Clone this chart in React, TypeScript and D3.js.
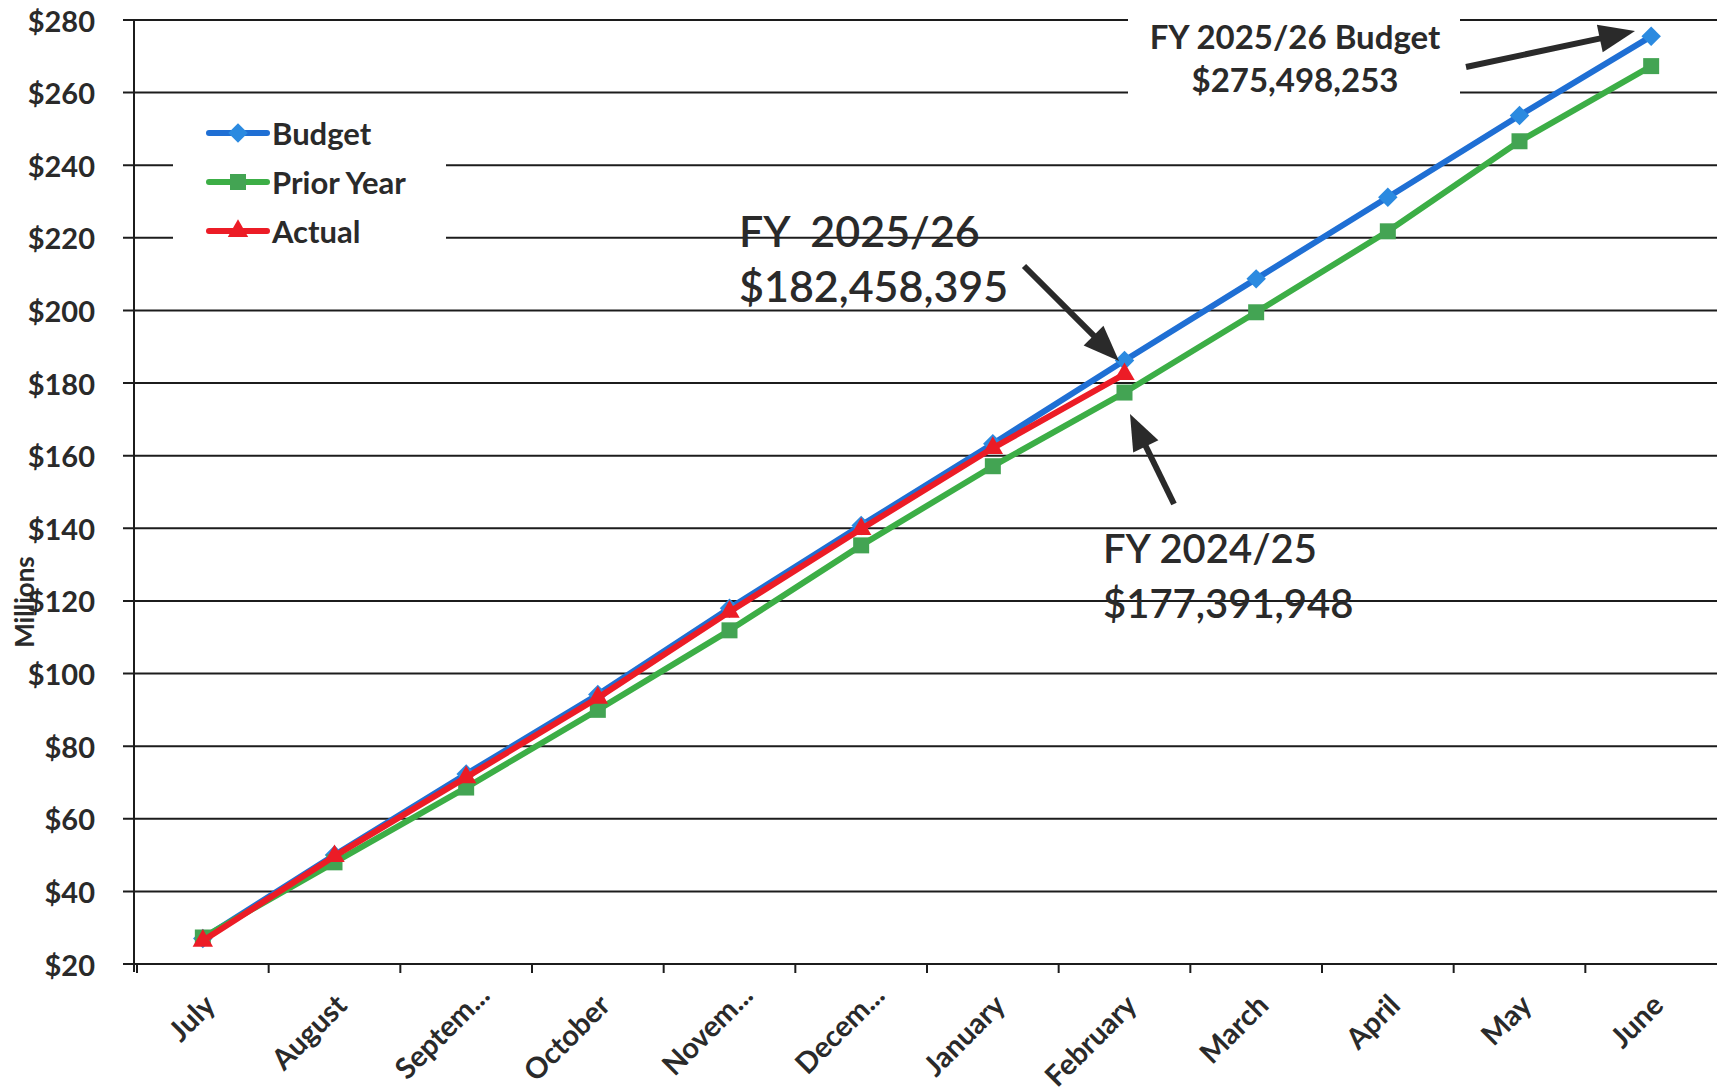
import React from 'react';
import * as d3 from 'd3';

// Monthly cumulative revenue, in millions of dollars
const months = ['July', 'August', 'Septem...', 'October', 'Novem...', 'Decem...', 'January', 'February', 'March', 'April', 'May', 'June'];
const budget = [27.0, 50.0, 72.3, 94.2, 118.0, 140.8, 163.3, 186.2, 208.7, 231.2, 253.7, 275.498253];
const priorYear = [27.3, 48.0, 68.6, 90.0, 111.9, 135.3, 157.1, 177.391948, 199.5, 221.8, 246.6, 267.3];
const actual = [26.4, 49.7, 71.4, 93.3, 117.0, 139.8, 162.1, 182.458395];
const yTicks = [20, 40, 60, 80, 100, 120, 140, 160, 180, 200, 220, 240, 260, 280];

const W = 1717;
const H = 1092;
const FONT = 'Lato, "Open Sans", sans-serif';
const INK = '#2a2a2a';

const BLUE = '#1f6fd4';
const BLUE_MK = '#2b8ae0';
const GREEN = '#3cae46';
const GREEN_MK = '#43a453';
const RED = '#ec1c26';

const fmtMoney = (v: number) => '$' + d3.format(',.0f')(v * 1e6);

function Arrow({ x1, y1, x2, y2, head = 36, half = 14, width = 6 }: any) {
  const dx = x2 - x1;
  const dy = y2 - y1;
  const len = Math.hypot(dx, dy);
  const ux = dx / len;
  const uy = dy / len;
  const bx = x2 - ux * head;
  const by = y2 - uy * head;
  const px = -uy;
  const py = ux;
  const pts = [
    [x2, y2],
    [bx + px * half, by + py * half],
    [bx - px * half, by - py * half],
  ];
  return (
    <g>
      <line x1={x1} y1={y1} x2={bx + ux * 2} y2={by + uy * 2} stroke={INK} strokeWidth={width} />
      <polygon points={pts.map((p) => p.join(',')).join(' ')} fill={INK} />
    </g>
  );
}

export default function App() {
  const x = d3.scaleBand<string>().domain(months).range([137, 1717]);
  const y = d3.scaleLinear().domain([20, 280]).range([964, 20]);
  const cx = (m: string) => (x(m) as number) + x.bandwidth() / 2;

  const line = d3
    .line<number>()
    .x((_, i) => cx(months[i]))
    .y((d) => y(d));

  const diamond = d3.symbol().type(d3.symbolSquare).size(190)() as string;
  const square = d3.symbol().type(d3.symbolSquare).size(256)() as string;
  const triangle = d3.symbol().type(d3.symbolTriangle).size(180)() as string;

  const axisLeft = 134;
  const x0 = y(20);

  const series = [
    { name: 'Budget', values: budget, color: BLUE, mk: BLUE_MK, path: diamond, rot: 45 },
    { name: 'Prior Year', values: priorYear, color: GREEN, mk: GREEN_MK, path: square, rot: 0 },
    { name: 'Actual', values: actual, color: RED, mk: RED, path: triangle, rot: 0 },
  ];

  return (
    <svg
      width={W}
      height={H}
      viewBox={`0 0 ${W} ${H}`}
      style={{ position: 'absolute', left: 0, top: 0, background: '#fff' }}
    >
      <rect width={W} height={H} fill="#fff" />

      {/* horizontal gridlines with left tick stubs */}
      {yTicks.map((t) => (
        <line key={t} x1={123} x2={W} y1={y(t)} y2={y(t)} stroke="#1c1c1c" strokeWidth={2} />
      ))}

      {/* y axis line */}
      <line x1={axisLeft} x2={axisLeft} y1={y(280)} y2={x0 + 8} stroke="#1c1c1c" strokeWidth={2} />

      {/* category ticks */}
      {months.map((m) => (
        <line key={m} x1={x(m)} x2={x(m)} y1={x0} y2={x0 + 9} stroke="#1c1c1c" strokeWidth={2} />
      ))}

      {/* y tick labels */}
      {yTicks.map((t) => (
        <text
          key={t}
          x={95}
          y={y(t)}
          textAnchor="end"
          dominantBaseline="central"
          fontFamily={FONT}
          fontWeight={700}
          fontSize={29}
          fill={INK}
        >
          {'$' + t}
        </text>
      ))}

      <text
        transform={`translate(24,602) rotate(-90)`}
        textAnchor="middle"
        dominantBaseline="central"
        fontFamily={FONT}
        fontWeight={700}
        fontSize={26}
        fill={INK}
      >
        Millions
      </text>

      {/* x tick labels, rotated; truncated names sit a little higher */}
      {months.map((m) => {
        const cut = m.endsWith('...');
        const tx = cx(m) + (cut ? 17 : 6);
        const ty = x0 + (cut ? 25 : 35);
        return (
          <text
            key={m}
            transform={`translate(${tx},${ty}) rotate(-45)`}
            textAnchor="end"
            dominantBaseline="central"
            fontFamily={FONT}
            fontWeight={700}
            fontSize={29}
            fill={INK}
          >
            {m}
          </text>
        );
      })}

      {/* backgrounds behind legend and budget callout */}
      <rect x={173} y={105} width={273} height={153} fill="#fff" />
      <rect x={1128} y={0} width={332} height={110} fill="#fff" />

      {/* series */}
      {series.map((s) => (
        <g key={s.name}>
          <path d={line(s.values) as string} fill="none" stroke={s.color} strokeWidth={6} strokeLinejoin="round" />
          {s.values.map((v, i) => (
            <path
              key={i}
              d={s.path}
              transform={`translate(${cx(months[i])},${y(v)}) rotate(${s.rot})`}
              fill={s.mk}
            />
          ))}
        </g>
      ))}

      {/* legend */}
      {series.map((s, i) => {
        const ly = 133 + i * 49;
        return (
          <g key={s.name}>
            <line x1={209} x2={267} y1={ly} y2={ly} stroke={s.color} strokeWidth={6} strokeLinecap="round" />
            <path d={s.path} transform={`translate(238,${ly}) rotate(${s.rot})`} fill={s.mk} />
            <text
              x={272}
              y={ly}
              dominantBaseline="central"
              fontFamily={FONT}
              fontWeight={700}
              fontSize={31}
              fill={INK}
            >
              {s.name}
            </text>
          </g>
        );
      })}

      {/* callouts */}
      <g fontFamily={FONT} fill={INK} fontWeight={700}>
        <text x={1295} y={36} textAnchor="middle" dominantBaseline="central" fontSize={33}>
          FY 2025/26 Budget
        </text>
        <text x={1295} y={79} textAnchor="middle" dominantBaseline="central" fontSize={33}>
          {fmtMoney(budget[11])}
        </text>
      </g>
      <Arrow x1={1466} y1={67} x2={1635} y2={31} />

      <g fontFamily={FONT} fill={INK} fontWeight={600}>
        <text x={739} y={230} dominantBaseline="central" fontSize={43} style={{ whiteSpace: 'pre' }}>
          {'FY  2025/26'}
        </text>
        <text x={739} y={285} dominantBaseline="central" fontSize={43}>
          {fmtMoney(actual[7])}
        </text>
        <text x={1103} y={548} dominantBaseline="central" fontSize={40}>
          FY 2024/25
        </text>
        <text x={1103} y={603} dominantBaseline="central" fontSize={40}>
          {fmtMoney(priorYear[7])}
        </text>
      </g>
      <Arrow x1={1024} y1={266} x2={1119} y2={361} />
      <Arrow x1={1174} y1={504} x2={1130} y2={414} />
    </svg>
  );
}
